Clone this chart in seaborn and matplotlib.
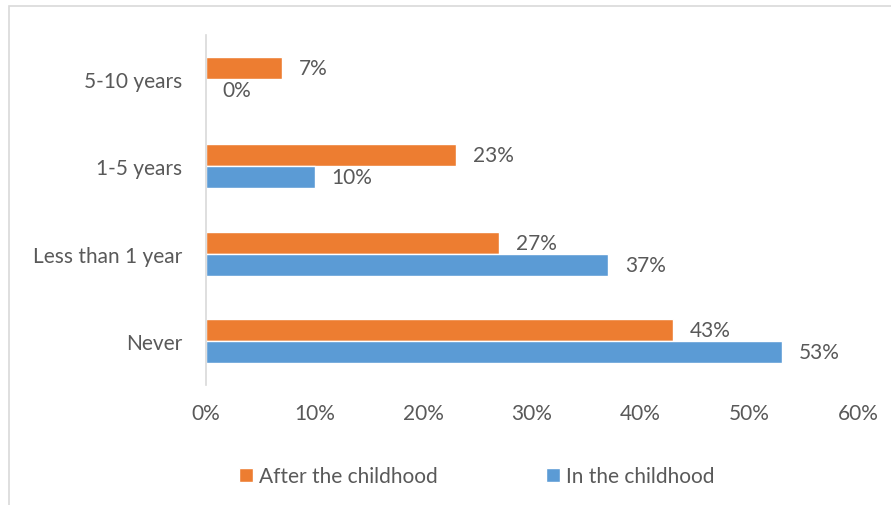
import matplotlib
matplotlib.use("Agg")
import matplotlib.pyplot as plt
from matplotlib.patches import Rectangle
import seaborn as sns
import pandas as pd

categories = ["5-10 years", "1-5 years", "Less than 1 year", "Never"]
after_childhood = [7, 23, 27, 43]
in_childhood = [0, 10, 37, 53]
series_names = ["After the childhood", "In the childhood"]
x_ticks = [0, 10, 20, 30, 40, 50, 60]

df = pd.DataFrame({
    "category": categories * 2,
    "value": after_childhood + in_childhood,
    "series": [series_names[0]] * len(categories) + [series_names[1]] * len(categories),
})

sns.set_theme(style="white")
plt.rcParams["font.family"] = ["Lato", "DejaVu Sans"]
text_color = "#595959"
fs = 15
palette = {series_names[0]: "#ED7D31", series_names[1]: "#5B9BD5"}

fig = plt.figure(figsize=(8.91, 5.06), dpi=100)
ax = fig.add_axes([0.2312, 0.2372, 0.7318, 0.6917])

sns.barplot(data=df, x="value", y="category", hue="series", order=categories,
            hue_order=series_names, palette=palette, orient="h", width=0.5,
            saturation=1, ax=ax, legend=True)

ax.set_xlim(0, 60)
ax.set_ylim(3.5, -0.5)
ax.set_xticks(x_ticks)
ax.set_xticklabels([f"{t}%" for t in x_ticks])
ax.set_xlabel("")
ax.set_ylabel("")
ax.tick_params(axis="both", length=0, labelsize=fs, colors=text_color)
ax.tick_params(axis="x", pad=13)
ax.tick_params(axis="y", pad=17)
for side in ["top", "right", "bottom"]:
    ax.spines[side].set_visible(False)
ax.spines["left"].set_color("#D9D9D9")
ax.spines["left"].set_linewidth(1.2)

for container in ax.containers:
    ax.bar_label(container, labels=[f"{v:.0f}%" for v in container.datavalues],
                 padding=12, fontsize=fs, color=text_color)

handles, labels = ax.get_legend_handles_labels()
ax.get_legend().remove()
fig.legend(handles, labels, loc="center", bbox_to_anchor=(0.535, 0.057), ncol=2,
           frameon=False, fontsize=fs, labelcolor=text_color, handlelength=0.65,
           handleheight=0.65, handletextpad=0.3, columnspacing=5.2)

fig.patches.append(Rectangle((0.0101, -0.05), 1.1, 1.036, transform=fig.transFigure,
                             fill=False, edgecolor="#D9D9D9", linewidth=1.2))

fig.savefig("out.png", dpi=100)
